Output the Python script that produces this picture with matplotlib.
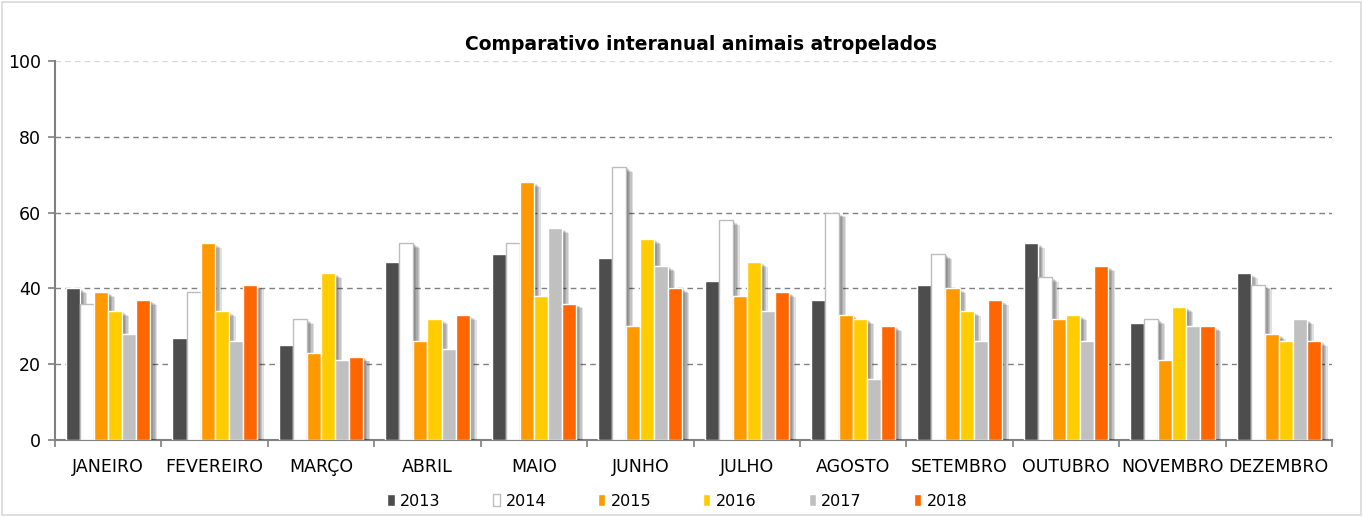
import numpy as np
import matplotlib
matplotlib.use("Agg")
import matplotlib.pyplot as plt
import matplotlib.patheffects as pe
from matplotlib.patches import Rectangle

months = ["JANEIRO", "FEVEREIRO", "MARÇO", "ABRIL", "MAIO", "JUNHO",
          "JULHO", "AGOSTO", "SETEMBRO", "OUTUBRO", "NOVEMBRO", "DEZEMBRO"]
years = ["2013", "2014", "2015", "2016", "2017", "2018"]

v2013 = [40, 27, 25, 47, 49, 48, 42, 37, 41, 52, 31, 44]
v2014 = [36, 39, 32, 52, 52, 72, 58, 60, 49, 43, 32, 41]
v2015 = [39, 52, 23, 26, 68, 30, 38, 33, 40, 32, 21, 28]
v2016 = [34, 34, 44, 32, 38, 53, 47, 32, 34, 33, 35, 26]
v2017 = [28, 26, 21, 24, 56, 46, 34, 16, 26, 26, 30, 32]
v2018 = [37, 41, 22, 33, 36, 40, 39, 30, 37, 46, 30, 26]

series = [v2013, v2014, v2015, v2016, v2017, v2018]
fills = ["#4d4d4d", "#ffffff", "#ff9900", "#ffcc00", "#c0c0c0", "#ff6600"]
edges = ["#ffffff", "#bdbdbd", "#ffffff", "#ffffff", "#ffffff", "#ffffff"]

fig = plt.figure(figsize=(13.63, 5.17), dpi=100)
ax = fig.add_axes([55 / 1363, 1 - 440 / 517, (1332 - 55) / 1363, (440 - 61) / 517])

x = np.arange(len(months))
bw = 0.132
# soft drop shadow built from a few stacked offsets
shadow = [pe.SimplePatchShadow(offset=(d, -0.7 * d), shadow_rgbFace="#000000", alpha=0.12)
          for d in (1.0, 2.0, 3.0, 4.0, 5.0)] + [pe.Normal()]
for i, (vals, fc, ec) in enumerate(zip(series, fills, edges)):
    pos = x - 2.5 * bw + i * bw
    bars = ax.bar(pos, vals, width=bw, color=fc, edgecolor=ec, linewidth=1.0,
                  label=years[i], zorder=3)
    for b in bars:
        b.set_path_effects(shadow)

ax.set_xlim(-0.5, len(months) - 0.5)
ax.set_ylim(0, 100)
ax.set_yticks([0, 20, 40, 60, 80, 100])
for yv in [20, 40, 60, 80]:
    ax.axhline(yv, color="#808080", linestyle=(0, (4, 3)), linewidth=1.0, zorder=1)
ax.axhline(100, color="#d8d8d8", linestyle=(0, (4, 3)), linewidth=1.0, zorder=1)

ax.set_xticks(x)
ax.set_xticklabels(months, fontsize=12.5)
ax.tick_params(axis="x", length=0, pad=13)
ax.set_xticks(np.arange(-0.5, len(months)), minor=True)
ax.tick_params(axis="x", which="minor", length=5, color="#808080", width=1.2)
ax.tick_params(axis="y", labelsize=12.5, length=5, color="#808080", width=1.2, pad=5)

for s in ["top", "right"]:
    ax.spines[s].set_visible(False)
for s in ["left", "bottom"]:
    ax.spines[s].set_color("#808080")
    ax.spines[s].set_linewidth(1.5)

fig.text(0.514, 1 - 44 / 517, "Comparativo interanual animais atropelados",
         ha="center", va="center", fontsize=13.5, fontweight="bold")

leg = fig.legend(loc="center", bbox_to_anchor=(0.497, 1 - 501 / 517), ncol=6,
                 frameon=False, fontsize=11.5, handlelength=0.45, handleheight=0.7,
                 handletextpad=0.35, columnspacing=3.25)
for h in leg.legend_handles:
    h.set_path_effects([])

fig.add_artist(Rectangle((0.0015, 0.003), 0.997, 0.994, transform=fig.transFigure,
                         fill=False, edgecolor="#d9d9d9", linewidth=1.2))

fig.savefig("out.png", dpi=100, facecolor="white")
